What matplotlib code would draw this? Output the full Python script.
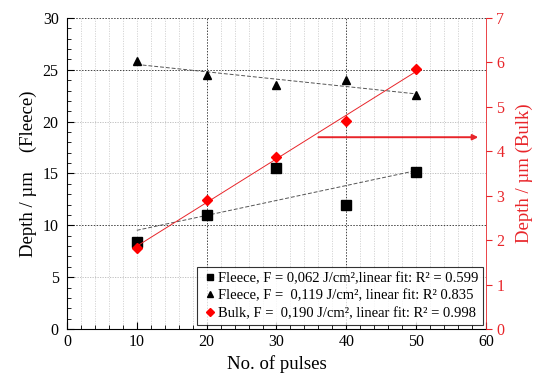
import numpy as np
import matplotlib.pyplot as plt

plt.rcParams['font.family'] = ['Liberation Serif', 'DejaVu Serif']

# Numero de pulsos
pulsos = np.array([10, 20, 30, 40, 50])

# Profundidad (Fleece) en um
fleece_062 = np.array([8.4, 11.0, 15.5, 12.0, 15.1])
fleece_119 = np.array([25.9, 24.5, 23.5, 24.0, 22.6])

# Profundidad (Bulk) en um
bulk_190 = np.array([1.83, 2.9, 3.88, 4.69, 5.85])

etiquetas = ["Fleece, F = 0,062 J/cm²,linear fit: R² = 0.599",
             "Fleece, F =  0,119 J/cm², linear fit: R² 0.835",
             "Bulk, F =  0,190 J/cm², linear fit: R² = 0.998"]

rojo = "#e8252a"

fig = plt.figure(figsize=(5.33, 3.83), dpi=100)
ax = fig.add_axes([0.1257, 0.141, 0.786, 0.812])
ax2 = ax.twinx()

# Rejilla
for xv in np.arange(2, 60, 2):
    if xv in (20, 40):
        ax.axvline(xv, color="#444444", lw=0.7, ls=(0, (1.5, 1.5)), zorder=0)
    else:
        ax.axvline(xv, color="#d0d0d0", lw=0.6, ls=(0, (1.5, 1.5)), zorder=0)
for yv in [5, 10, 15, 20, 25, 30]:
    if yv in (10, 25, 30):
        ax.axhline(yv, color="#444444", lw=0.7, ls=(0, (1.5, 1.5)), zorder=0)
    else:
        ax.axhline(yv, color="#b8b8b8", lw=0.6, ls=(0, (1.5, 1.5)), zorder=0)

# Ajustes lineales
xf = np.array([10, 50])
p1 = np.polyfit(pulsos, fleece_062, 1)
p2 = np.polyfit(pulsos, fleece_119, 1)
p3 = np.polyfit(pulsos, bulk_190, 1)
ax.plot(xf, np.polyval(p1, xf), color="#555555", lw=0.7, ls=(0, (4, 2)))
ax.plot(xf, np.polyval(p2, xf), color="#555555", lw=0.7, ls=(0, (4, 2)))
ax2.plot(xf, np.polyval(p3, xf), color=rojo, lw=0.7)

# Datos
h1, = ax.plot(pulsos, fleece_062, "s", color="black", ms=6.5, ls="none")
h2, = ax.plot(pulsos, fleece_119, "^", color="black", ms=6, ls="none")
h3, = ax2.plot(pulsos, bulk_190, "D", color="red", ms=5.5, ls="none")

ax.set_xlim(0, 60)
ax.set_ylim(0, 30)
ax2.set_ylim(0, 7)
ax.set_xticks(np.arange(0, 61, 10))
ax.set_xticks(np.arange(0, 61, 2), minor=True)
ax.set_yticks(np.arange(0, 31, 5))
ax.set_yticks(np.arange(0, 31, 1), minor=True)
ax2.set_yticks(np.arange(0, 8, 1))

ax.tick_params(axis="both", which="both", direction="in", labelsize=11.5)
ax.tick_params(axis="both", which="major", length=5)
ax.tick_params(axis="both", which="minor", length=3)
ax.tick_params(axis="y", pad=6)
ax2.tick_params(axis="y", colors=rojo, direction="out", length=4, labelsize=11.5)

for lado in ["top", "right"]:
    ax.spines[lado].set_visible(False)
ax2.spines["top"].set_visible(False)
ax2.spines["left"].set_visible(False)
ax2.spines["bottom"].set_visible(False)
ax2.spines["right"].set_color(rojo)
ax2.spines["right"].set_linewidth(0.6)

ax.set_xlabel("No. of pulses", fontsize=13.5, labelpad=4)
ax.set_ylabel("Depth / µm    (Fleece)", fontsize=13.5)
ax2.set_ylabel("Depth / µm (Bulk)", fontsize=13.5, color=rojo, labelpad=8)

# Flecha hacia el eje derecho
ax.annotate("", xy=(58.9, 18.5), xytext=(36, 18.5),
            arrowprops=dict(arrowstyle="-|>", color=rojo, lw=1.4,
                            mutation_scale=8, shrinkA=0, shrinkB=0))

leg = ax2.legend([h1, h2, h3], etiquetas, loc="lower right",
                 bbox_to_anchor=(0.993, 0.012), fontsize=10.5, frameon=True,
                 fancybox=False, edgecolor="black", handletextpad=0.05,
                 handlelength=1.0, borderpad=0.35, labelspacing=0.3,
                 markerscale=0.75, borderaxespad=0)
leg.get_frame().set_linewidth(0.8)

plt.savefig("out.png", dpi=100)
